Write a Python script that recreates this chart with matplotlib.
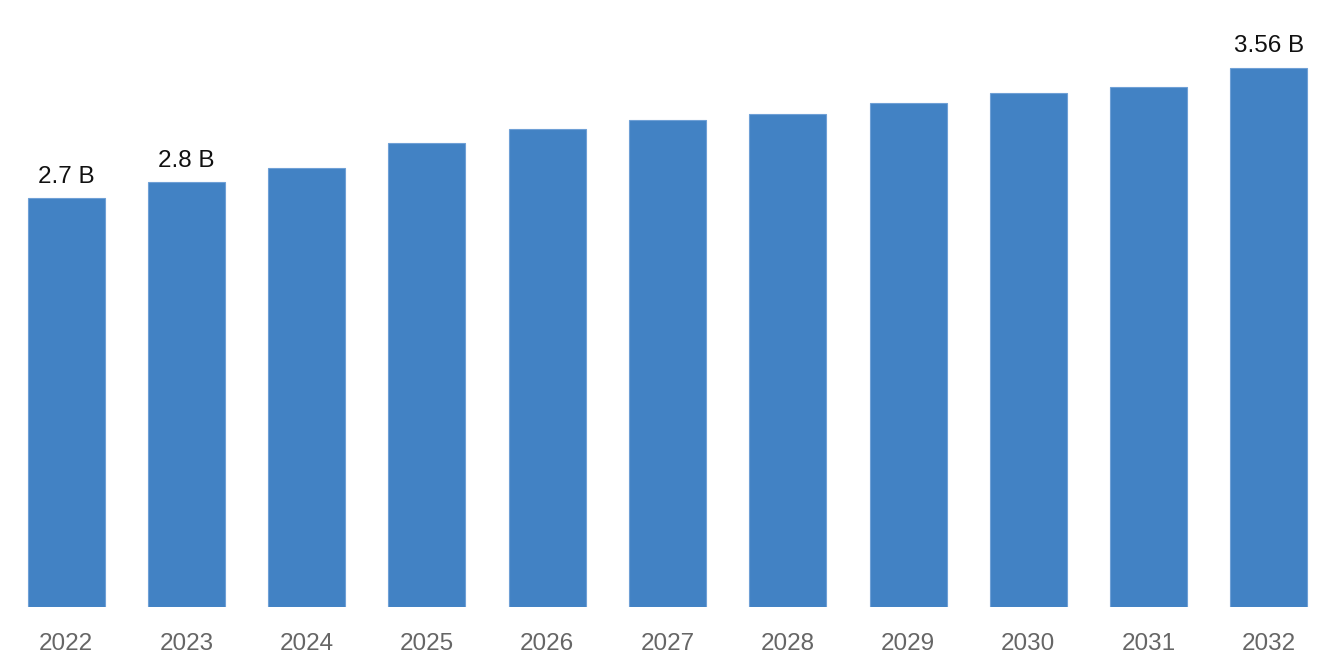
import matplotlib
matplotlib.use("Agg")
import matplotlib.pyplot as plt

years = ["2022", "2023", "2024", "2025", "2026", "2027", "2028", "2029", "2030", "2031", "2032"]
values = [2.7, 2.805, 2.90, 3.06, 3.155, 3.215, 3.255, 3.33, 3.39, 3.435, 3.56]
labels = {0: "2.7 B", 1: "2.8 B", 10: "3.56 B"}

plt.rcParams["font.family"] = ["Liberation Sans", "DejaVu Sans"]

fig = plt.figure(figsize=(13.36, 6.68), dpi=100)
ax = fig.add_axes([0.0045, 0.0913, 0.9903, 0.9087])

x = range(len(years))
bars = ax.bar(x, values, width=0.64, color="#4282C4", edgecolor="#6FA0D6", linewidth=0.8)

for i, txt in labels.items():
    ax.annotate(txt, (i, values[i]), xytext=(0, 7.5), textcoords="offset points",
                ha="center", va="bottom", fontsize=17.5, color="#111111")

ax.set_xlim(-0.5, len(years) - 0.5)
ax.set_ylim(0, 4.007)
ax.set_xticks(list(x))
ax.set_xticklabels(years, fontsize=17.5, color="#666666")
ax.tick_params(axis="x", length=0, pad=19)
ax.set_yticks([])
for s in ax.spines.values():
    s.set_visible(False)

fig.savefig("out.png", dpi=100)
